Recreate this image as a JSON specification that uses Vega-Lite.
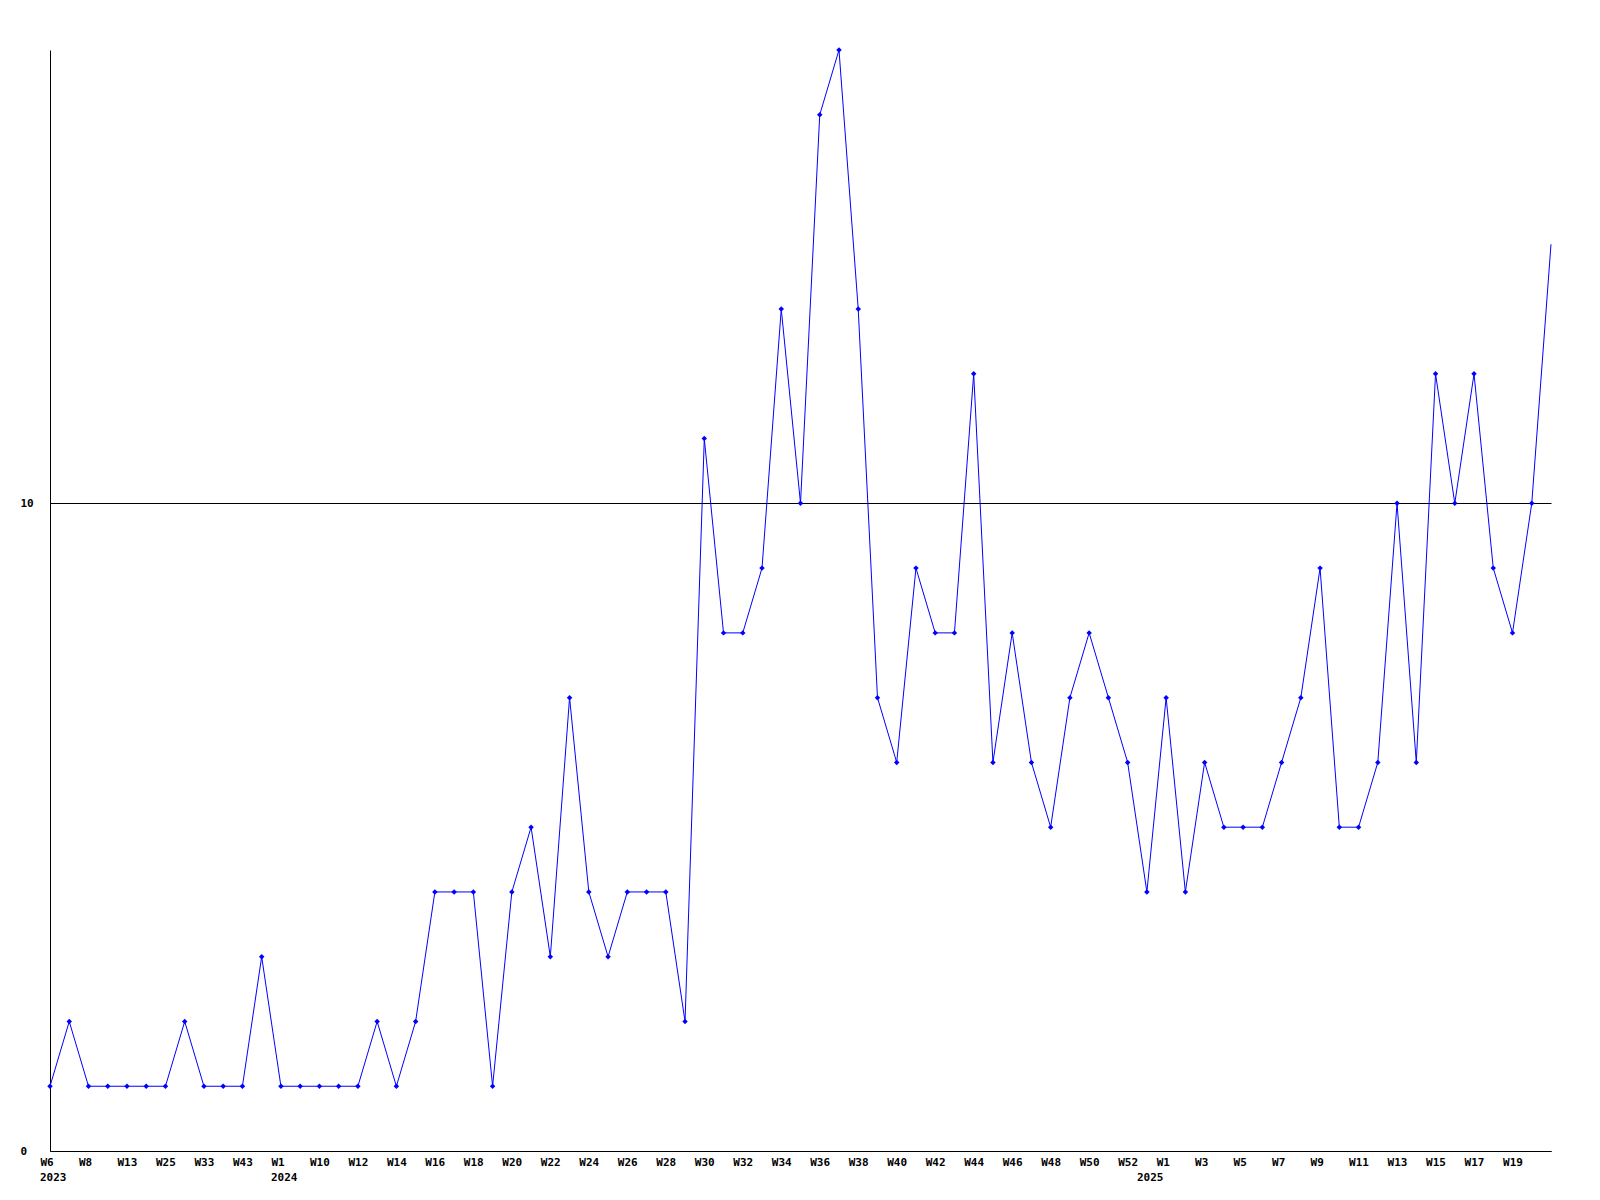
{
  "$schema": "https://vega.github.io/schema/vega-lite/v6.json",
  "autosize": "none",
  "width": 1501,
  "height": 1101,
  "padding": {"left": 50, "top": 50, "right": 49, "bottom": 49},
  "background": "white",
  "config": {"view": {"stroke": null}, "font": "DejaVu Sans Mono"},
  "data": {"values": [
    {"k": "W6 2023", "v": 1, "yearLabel": "2023"},
    {"k": "W7 2023", "v": 2},
    {"k": "W8 2023", "v": 1},
    {"k": "W10 2023", "v": 1},
    {"k": "W13 2023", "v": 1},
    {"k": "W20 2023", "v": 1},
    {"k": "W25 2023", "v": 1},
    {"k": "W29 2023", "v": 2},
    {"k": "W33 2023", "v": 1},
    {"k": "W38 2023", "v": 1},
    {"k": "W43 2023", "v": 1},
    {"k": "W48 2023", "v": 3},
    {"k": "W1 2024", "v": 1, "yearLabel": "2024"},
    {"k": "W5 2024", "v": 1},
    {"k": "W10 2024", "v": 1},
    {"k": "W11 2024", "v": 1},
    {"k": "W12 2024", "v": 1},
    {"k": "W13 2024", "v": 2},
    {"k": "W14 2024", "v": 1},
    {"k": "W15 2024", "v": 2},
    {"k": "W16 2024", "v": 4},
    {"k": "W17 2024", "v": 4},
    {"k": "W18 2024", "v": 4},
    {"k": "W19 2024", "v": 1},
    {"k": "W20 2024", "v": 4},
    {"k": "W21 2024", "v": 5},
    {"k": "W22 2024", "v": 3},
    {"k": "W23 2024", "v": 7},
    {"k": "W24 2024", "v": 4},
    {"k": "W25 2024", "v": 3},
    {"k": "W26 2024", "v": 4},
    {"k": "W27 2024", "v": 4},
    {"k": "W28 2024", "v": 4},
    {"k": "W29 2024", "v": 2},
    {"k": "W30 2024", "v": 11},
    {"k": "W31 2024", "v": 8},
    {"k": "W32 2024", "v": 8},
    {"k": "W33 2024", "v": 9},
    {"k": "W34 2024", "v": 13},
    {"k": "W35 2024", "v": 10},
    {"k": "W36 2024", "v": 16},
    {"k": "W37 2024", "v": 17},
    {"k": "W38 2024", "v": 13},
    {"k": "W39 2024", "v": 7},
    {"k": "W40 2024", "v": 6},
    {"k": "W41 2024", "v": 9},
    {"k": "W42 2024", "v": 8},
    {"k": "W43 2024", "v": 8},
    {"k": "W44 2024", "v": 12},
    {"k": "W45 2024", "v": 6},
    {"k": "W46 2024", "v": 8},
    {"k": "W47 2024", "v": 6},
    {"k": "W48 2024", "v": 5},
    {"k": "W49 2024", "v": 7},
    {"k": "W50 2024", "v": 8},
    {"k": "W51 2024", "v": 7},
    {"k": "W52 2024", "v": 6},
    {"k": "W0 2025", "v": 4, "yearLabel": "2025"},
    {"k": "W1 2025", "v": 7},
    {"k": "W2 2025", "v": 4},
    {"k": "W3 2025", "v": 6},
    {"k": "W4 2025", "v": 5},
    {"k": "W5 2025", "v": 5},
    {"k": "W6 2025", "v": 5},
    {"k": "W7 2025", "v": 6},
    {"k": "W8 2025", "v": 7},
    {"k": "W9 2025", "v": 9},
    {"k": "W10 2025", "v": 5},
    {"k": "W11 2025", "v": 5},
    {"k": "W12 2025", "v": 6},
    {"k": "W13 2025", "v": 10},
    {"k": "W14 2025", "v": 6},
    {"k": "W15 2025", "v": 12},
    {"k": "W16 2025", "v": 10},
    {"k": "W17 2025", "v": 12},
    {"k": "W18 2025", "v": 9},
    {"k": "W19 2025", "v": 8},
    {"k": "W20 2025", "v": 10},
    {"k": "W21 2025", "v": 14}
  ]},
  "encoding": {
    "x": {
      "field": "k", "type": "ordinal", "sort": null,
      "scale": {"type": "point", "padding": 0},
      "axis": {
        "title": null,
        "values": ["W6 2023","W8 2023","W13 2023","W25 2023","W33 2023","W43 2023","W1 2024","W10 2024","W12 2024","W14 2024","W16 2024","W18 2024","W20 2024","W22 2024","W24 2024","W26 2024","W28 2024","W30 2024","W32 2024","W34 2024","W36 2024","W38 2024","W40 2024","W42 2024","W44 2024","W46 2024","W48 2024","W50 2024","W52 2024","W1 2025","W3 2025","W5 2025","W7 2025","W9 2025","W11 2025","W13 2025","W15 2025","W17 2025","W19 2025"],
        "labelExpr": "split(datum.value, ' ')[0]",
        "labelAngle": 0,
        "labelAlign": "left",
        "labelBaseline": "middle",
        "labelOffset": -10,
        "labelPadding": 11,
        "labelOverlap": false,
        "labelFont": "DejaVu Sans Mono",
        "labelFontWeight": "bold",
        "labelFontSize": 11,
        "labelColor": "black",
        "ticks": false,
        "domainColor": "black",
        "domainWidth": 1,
        "grid": false
      }
    },
    "y": {
      "field": "v", "type": "quantitative",
      "scale": {"domain": [0, 17], "nice": false, "zero": true},
      "axis": {
        "title": null,
        "values": [0, 10],
        "labelAlign": "left",
        "labelBaseline": "middle",
        "labelPadding": 30,
        "labelFont": "DejaVu Sans Mono",
        "labelFontWeight": "bold",
        "labelFontSize": 11,
        "labelColor": "black",
        "ticks": false,
        "domainColor": "black",
        "domainWidth": 1,
        "grid": true,
        "gridColor": "black",
        "gridWidth": 1,
        "gridOpacity": 1
      }
    }
  },
  "layer": [
    {"mark": {"type": "line", "color": "#0000ff", "strokeWidth": 1}},
    {
      "transform": [{"filter": "datum.k != 'W21 2025'"}],
      "mark": {"type": "point", "shape": "diamond", "filled": true, "color": "#0000ff", "size": 30, "opacity": 1}
    },
    {
      "transform": [{"filter": "datum.yearLabel"}],
      "mark": {"type": "text", "align": "left", "baseline": "middle", "dx": -10, "dy": 27, "font": "DejaVu Sans Mono", "fontWeight": "bold", "fontSize": 11, "color": "black"},
      "encoding": {"y": {"datum": 0}, "text": {"field": "yearLabel"}}
    }
  ]
}
